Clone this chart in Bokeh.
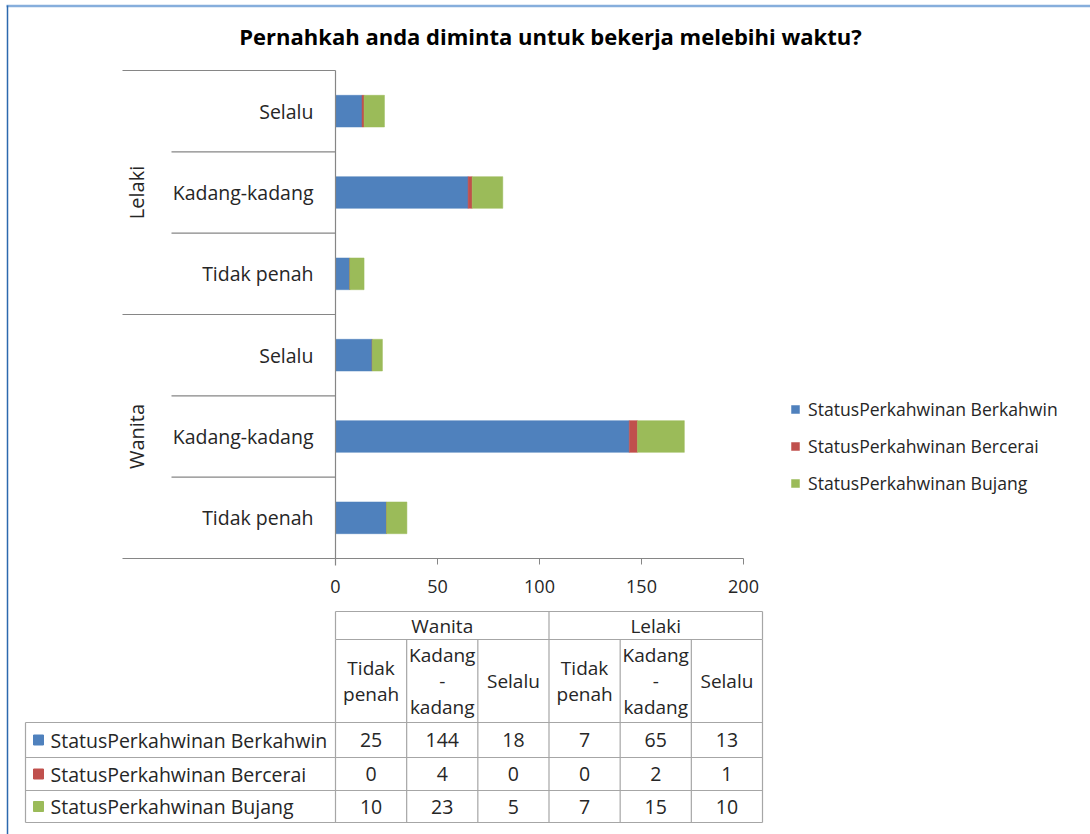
import math
from bokeh.plotting import figure
from bokeh.models import (Range1d, LinearAxis, FixedTicker, Legend, LegendItem,
                          ColumnDataSource)
from bokeh.core.properties import value
from bokeh.embed import file_html
from bokeh.resources import INLINE

# ---------------- data ----------------
title = "Pernahkah anda diminta untuk bekerja melebihi waktu?"
genders = ["Wanita", "Lelaki"]
responses = ["Tidak penah", "Kadang-kadang", "Selalu"]
response_headers = ["Tidak\npenah", "Kadang\n-\nkadang", "Selalu"]
series_names = ["StatusPerkahwinan Berkahwin", "StatusPerkahwinan Bercerai",
                "StatusPerkahwinan Bujang"]
colors = ["#4F81BD", "#C0504D", "#9BBB59"]
berkahwin = [25, 144, 18, 7, 65, 13]   # Wanita: Tidak penah, Kadang-kadang, Selalu; Lelaki: same
bercerai = [0, 4, 0, 0, 2, 1]
bujang = [10, 23, 5, 7, 15, 10]
x_ticks = [0, 50, 100, 150, 200]

series = [berkahwin, bercerai, bujang]

# ---------------- layout ----------------
W, H = 1090, 834
X0_PX = 335.0          # pixel of value 0
PPU = 2.04             # pixels per value unit
BAND_BOTTOM_PX = 558.0
BAND_PX = 81.333
FONT = "Open Sans"
TXT = "#262626"
GRID = "#868686"
TBL = "#A6A6A6"

p = figure(width=W, height=H, output_backend="svg", toolbar_location=None,
           x_range=Range1d(-X0_PX / PPU, (W - X0_PX) / PPU),
           y_range=Range1d((BAND_BOTTOM_PX - H) / BAND_PX, BAND_BOTTOM_PX / BAND_PX),
           x_axis_location=None, y_axis_location=None, min_border=0,
           outline_line_color=None)
for g in p.grid:
    g.visible = False
p.extra_x_ranges = {"px": Range1d(0, W)}
p.extra_y_ranges = {"px": Range1d(H, 0)}

# page frame lines
p.segment(x0=[6], y0=[5.5], x1=[W], y1=[5.5], x_range_name="px", y_range_name="px",
          line_color="#86AEDC", line_width=2.5)
p.segment(x0=[7], y0=[5], x1=[7], y1=[H], x_range_name="px", y_range_name="px",
          line_color="#2C69AE", line_width=1.5)

# ---------------- bars ----------------
n = len(berkahwin)
ys = [i + 0.5 for i in range(n)]
left = [0.0] * n
renderers = []
for vals, col in zip(series, colors):
    right = [l + v for l, v in zip(left, vals)]
    src = ColumnDataSource(dict(y=ys, left=list(left), right=right))
    r = p.hbar(y="y", left="left", right="right", height=0.39, source=src,
               fill_color=col, line_color=col, line_width=0.5)
    renderers.append(r)
    left = right

# ---------------- value axis ----------------
ax = LinearAxis(fixed_location=0, bounds=(0, 200), ticker=FixedTicker(ticks=x_ticks),
                axis_line_color=GRID, major_tick_line_color=GRID, major_tick_out=6,
                major_tick_in=0, minor_tick_line_color=None,
                major_label_text_font=FONT, major_label_text_font_size="18px",
                major_label_text_color=TXT, major_label_standoff=15)
p.add_layout(ax, "below")

# category axis line
p.segment(x0=[0], y0=[n], x1=[0], y1=[-0.086], line_color=GRID, line_width=1.2)
# category separators
long_ys = [0, 3, 6]
short_ys = [1, 2, 4, 5]
p.segment(x0=[122] * 3, x1=[X0_PX] * 3, y0=long_ys, y1=long_ys,
          x_range_name="px", line_color=GRID, line_width=1.2)
p.segment(x0=[171] * 4, x1=[X0_PX] * 4, y0=short_ys, y1=short_ys,
          x_range_name="px", line_color=GRID, line_width=1.2)

# category labels
sub_labels = responses * len(genders)
p.text(x=[313] * n, y=ys, text=sub_labels, x_range_name="px",
       text_align="right", text_baseline="middle", text_font=value(FONT),
       text_font_size="19.5px", text_color=TXT)
p.text(x=[136, 136], y=[1.5, 4.5], text=genders, x_range_name="px", angle=math.pi / 2,
       text_align="center", text_baseline="middle", text_font=value(FONT),
       text_font_size="20px", text_color=TXT)

# title
p.text(x=[550], y=[35], text=[title], x_range_name="px", y_range_name="px",
       text_align="center", text_baseline="middle", text_font=value(FONT),
       text_font_size="22px", text_font_style="bold", text_color="#000000")

# ---------------- legend ----------------
legend = Legend(items=[LegendItem(label=nm, renderers=[r]) for nm, r in zip(series_names, renderers)],
                location=(790, 339), orientation="vertical", padding=0, margin=0,
                border_line_color=None, background_fill_alpha=0,
                glyph_width=10, glyph_height=10, label_standoff=8,
                label_height=24, spacing=13, label_text_font=FONT,
                label_text_font_size="17.6px", label_text_color=TXT)
p.add_layout(legend, "center")

# ---------------- data table ----------------
col_w = (762 - 335) / 6.0
col_edges = [335 + k * col_w for k in range(7)]
col_centers = [335 + (k + 0.5) * col_w for k in range(6)]
top, hdr1, hdr2 = 611, 639, 722
row_edges = [722, 757, 790, 822]
row_centers = [(row_edges[k] + row_edges[k + 1]) / 2 for k in range(3)]

# lines
hx0 = [335, 335] + [25] * 4
hx1 = [762] * 6
hy = [top, hdr1] + row_edges
p.segment(x0=hx0, x1=hx1, y0=hy, y1=hy, x_range_name="px", y_range_name="px",
          line_color=TBL, line_width=1.2)
vx = [col_edges[0], col_edges[3], col_edges[6]]
p.segment(x0=vx, x1=vx, y0=[top] * 3, y1=[hdr1] * 3, x_range_name="px",
          y_range_name="px", line_color=TBL, line_width=1.2)
p.segment(x0=col_edges, x1=col_edges, y0=[hdr1] * 7, y1=[row_edges[-1]] * 7,
          x_range_name="px", y_range_name="px", line_color=TBL, line_width=1.2)
p.segment(x0=[25], x1=[25], y0=[row_edges[0]], y1=[row_edges[-1]], x_range_name="px",
          y_range_name="px", line_color=TBL, line_width=1.2)

# header texts
p.text(x=[(col_edges[0] + col_edges[3]) / 2, (col_edges[3] + col_edges[6]) / 2],
       y=[(top + hdr1) / 2] * 2, text=genders, x_range_name="px", y_range_name="px",
       text_align="center", text_baseline="middle", text_font=value(FONT),
       text_font_size="19px", text_color=TXT)
p.text(x=col_centers, y=[(hdr1 + hdr2) / 2] * 6, text=response_headers * 2,
       x_range_name="px", y_range_name="px", text_align="center",
       text_baseline="middle", text_font=value(FONT), text_font_size="19px",
       text_line_height=1.0, text_color=TXT)

# row labels with keys
p.rect(x=[38] * 3, y=row_centers, width=10, height=10, x_range_name="px",
       y_range_name="px", fill_color=colors, line_color=colors)
p.text(x=[50] * 3, y=row_centers, text=series_names, x_range_name="px",
       y_range_name="px", text_align="left", text_baseline="middle",
       text_font=value(FONT), text_font_size="19.5px", text_color=TXT)

# values
for k, vals in enumerate(series):
    p.text(x=col_centers, y=[row_centers[k]] * 6, text=[str(v) for v in vals],
           x_range_name="px", y_range_name="px", text_align="center",
           text_baseline="middle", text_font=value(FONT), text_font_size="19.5px",
           text_color=TXT)

open("out.html", "w").write(file_html(p, INLINE))
